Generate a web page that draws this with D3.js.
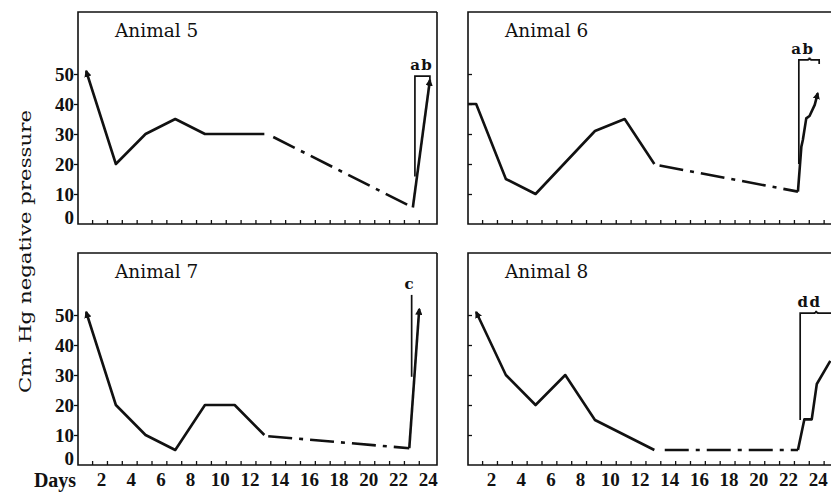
<!DOCTYPE html>
<html><head><meta charset="utf-8">
<script src="https://cdn.jsdelivr.net/npm/d3@7"></script>
<style>body{margin:0;background:#fff}svg{display:block}</style>
</head><body><svg id="c" width="831" height="493"></svg>
<script>
// ---- data ----
const panelNames = ["Animal 5", "Animal 6", "Animal 7", "Animal 8"];
const dayLabels = [2,4,6,8,10,12,14,16,18,20,22,24];
const tickDays = d3.range(1, 26);
const yTickValues = [10,20,30,40,50];
const yLabelValues = [0,10,20,30,40,50];

const a5SolidDays = [1,3,5,7,9,13];           const a5SolidVals = [51,20,30,35,30,30];
const a5DashDays  = [13.6,23.0];              const a5DashVals  = [29,5.5];
const a5RiseDays  = [23.0,24.15];             const a5RiseVals  = [5.5,48];
const a5BracketDays = [23.14,24.15];          const a5BracketVals = [15.8,49.3];

const a6SolidDays = [0.45,1,3,5,9,11,13];     const a6SolidVals = [40,40,15,10,31,35,20];
const a6DashDays  = [13.35,22.67];            const a6DashVals  = [19.5,10.8];
const a6RiseDays  = [22.67,22.9,23.0,23.23,23.45,23.8,24.0];
const a6RiseVals  = [10.8,25.8,28,35.2,36,39.7,43.6];
const a6BracketDays = [22.73,24.1];           const a6BracketVals = [20,54.7];

const a7SolidDays = [1,3,5,7,9,11,13];        const a7SolidVals = [51,20,10,5,20,20,10];
const a7DashDays  = [13.26,22.76];            const a7DashVals  = [9.6,5.6];
const a7RiseDays  = [22.76,23.43];            const a7RiseVals  = [5.6,52];
const a7BracketDays = [22.92,22.92];          const a7BracketVals = [29.4,56.7];

const a8SolidDays = [1,3,5,7,9,13];           const a8SolidVals = [51,30,20,30,15,5];
const a8DashDays  = [13.7,22.67];             const a8DashVals  = [5,5];
const a8RiseDays  = [22.67,23.1,23.6,23.94,24.85]; const a8RiseVals = [5,15.2,15.2,27,34.7];
const a8BracketDays = [22.82,25.2];           const a8BracketVals = [15,50.6];

const bracketNotes = ["ab","ab","c","dd"];
const noteDays = [23.6,23.0,22.8,23.45];

// ---- layout / style ----
const TICK_SHIFT = 0.4;
const serif = "'Liberation Serif', 'DejaVu Serif', serif";
const panels = [
  {name:panelNames[0], x0:78,  y0:12,  w:359, left:true,  bottom:false, startArrow:true,  endArrow:true,  brace:false,
   solid:[a5SolidDays,a5SolidVals], dash:[a5DashDays,a5DashVals], rise:[a5RiseDays,a5RiseVals], br:[a5BracketDays,a5BracketVals], note:bracketNotes[0], noteDay:noteDays[0]},
  {name:panelNames[1], x0:468, y0:12,  w:380, left:false, bottom:false, startArrow:false, endArrow:true,  brace:true,
   solid:[a6SolidDays,a6SolidVals], dash:[a6DashDays,a6DashVals], rise:[a6RiseDays,a6RiseVals], br:[a6BracketDays,a6BracketVals], note:bracketNotes[1], noteDay:noteDays[1]},
  {name:panelNames[2], x0:78,  y0:253, w:359, left:true,  bottom:true,  startArrow:true,  endArrow:true,  brace:false,
   solid:[a7SolidDays,a7SolidVals], dash:[a7DashDays,a7DashVals], rise:[a7RiseDays,a7RiseVals], br:[a7BracketDays,a7BracketVals], note:bracketNotes[2], noteDay:noteDays[2]},
  {name:panelNames[3], x0:468, y0:253, w:380, left:false, bottom:true,  startArrow:true,  endArrow:false, brace:true,
   solid:[a8SolidDays,a8SolidVals], dash:[a8DashDays,a8DashVals], rise:[a8RiseDays,a8RiseVals], br:[a8BracketDays,a8BracketVals], note:bracketNotes[3], noteDay:noteDays[3]}
];
const H = 212;

const svg = d3.select("#c");
svg.append("rect").attr("width",831).attr("height",493).attr("fill","#fff");
const defs = svg.append("defs");
defs.append("marker").attr("id","arr").attr("viewBox","0 0 10 10").attr("refX",8).attr("refY",5)
  .attr("markerWidth",2.8).attr("markerHeight",2.8).attr("markerUnits","strokeWidth").attr("orient","auto-start-reverse")
  .append("path").attr("d","M0,0 L10,5 L0,10 z").attr("fill","#111");

const line = (x,y) => d3.line().x((d,i)=>x(d[0])).y(d=>y(d[1]));
const zip = (a,b) => a.map((d,i)=>[d,b[i]]);

panels.forEach(p => {
  const g = svg.append("g").attr("transform",`translate(${p.x0},${p.y0})`);
  const x = d3.scaleLinear().domain([0.45, 24.6]).range([0, 358.6]);
  const y = d3.scaleLinear().domain([0, 70.67]).range([H, 0]);

  // frame
  g.append("path").attr("d",`M${p.w},0 H0 V${H} H${p.w}` + (p.left ? ` V0` : ""))
    .attr("fill","none").attr("stroke","#111").attr("stroke-width",1.6);

  // x tick marks
  const xt = g.append("g").attr("transform",`translate(0,${H})`)
    .call(d3.axisBottom(x).tickValues(tickDays.map(d=>d+TICK_SHIFT).filter(v=>x(v) < p.w-6)).tickSize(-4).tickFormat(""));
  xt.select(".domain").remove();
  xt.selectAll("line").attr("stroke","#111").attr("stroke-width",1.3);

  // y tick marks
  const yt = g.append("g").call(d3.axisLeft(y).tickValues(yTickValues).tickSize(p.left ? 4 : -4).tickFormat(""));
  yt.select(".domain").remove();
  yt.selectAll("line").attr("stroke","#111").attr("stroke-width",1.3);

  if (p.left) {
    const yl = g.append("g").call(d3.axisLeft(y).tickValues(yLabelValues).tickSize(0).tickPadding(4));
    yl.select(".domain").remove();
    yl.selectAll("text").attr("font-family",serif).attr("font-weight","bold").attr("font-size",19).attr("fill","#111")
      .attr("dy", d => d === 0 ? "-0.02em" : "0.33em");
  }
  if (p.bottom) {
    const xl = g.append("g").attr("transform",`translate(0,${H})`)
      .call(d3.axisBottom(x).tickValues(dayLabels).tickSize(0).tickPadding(8));
    xl.select(".domain").remove();
    xl.selectAll("text").attr("font-family",serif).attr("font-weight","bold").attr("font-size",19).attr("fill","#111");
  }

  // title
  g.append("text").attr("x",37).attr("y",25).text(p.name)
    .attr("font-family","'DejaVu Serif', serif").attr("font-size",18.5).attr("fill","#111");

  // solid
  g.append("path").attr("d", line(x,y)(zip(p.solid[0],p.solid[1])))
    .attr("fill","none").attr("stroke","#111").attr("stroke-width",2.6).attr("stroke-linejoin","round")
    .attr("marker-start", p.startArrow ? "url(#arr)" : null);
  // dash-dot
  g.append("path").attr("d", line(x,y)(zip(p.dash[0],p.dash[1])))
    .attr("fill","none").attr("stroke","#111").attr("stroke-width",2.6)
    .attr("stroke-dasharray","24,7,4,7");
  // rise
  g.append("path").attr("d", line(x,y)(zip(p.rise[0],p.rise[1])))
    .attr("fill","none").attr("stroke","#111").attr("stroke-width",2.6).attr("stroke-linejoin","round")
    .attr("marker-end", p.endArrow ? "url(#arr)" : null);

  // bracket
  const bx0 = x(p.br[0][0]), bx1 = x(p.br[0][1]), by0 = y(p.br[1][0]), by1 = y(p.br[1][1]);
  let d = `M${bx0},${by0} V${by1}`;
  if (bx1 > bx0) {
    if (p.brace) {
      const m = x(p.noteDay + 0.45);
      d += ` H${m-3} Q${m},${by1} ${m},${by1-2.5} Q${m},${by1} ${m+3},${by1} H${bx1} v4`;
    } else {
      d += ` H${bx1} v4`;
    }
  }
  g.append("path").attr("d",d).attr("fill","none").attr("stroke","#111").attr("stroke-width",1.7);
  g.append("text").attr("x",x(p.noteDay)).attr("y",by1-6).attr("text-anchor","middle").text(p.note)
    .attr("font-family","'DejaVu Serif', serif").attr("font-weight","bold").attr("font-size",15)
    .attr("letter-spacing",1.5).attr("fill","#111");
});

svg.append("text").attr("x",55).attr("y",487).attr("text-anchor","middle").text("Days")
  .attr("font-family",serif).attr("font-weight","bold").attr("font-size",20).attr("fill","#111");

svg.append("text").attr("transform","translate(31,251.5) rotate(-90)").attr("text-anchor","middle")
  .text("Cm. Hg negative pressure").attr("font-family","'DejaVu Serif', serif").attr("font-size",17)
  .attr("textLength",283).attr("lengthAdjust","spacingAndGlyphs").attr("fill","#111");
</script></body></html>
